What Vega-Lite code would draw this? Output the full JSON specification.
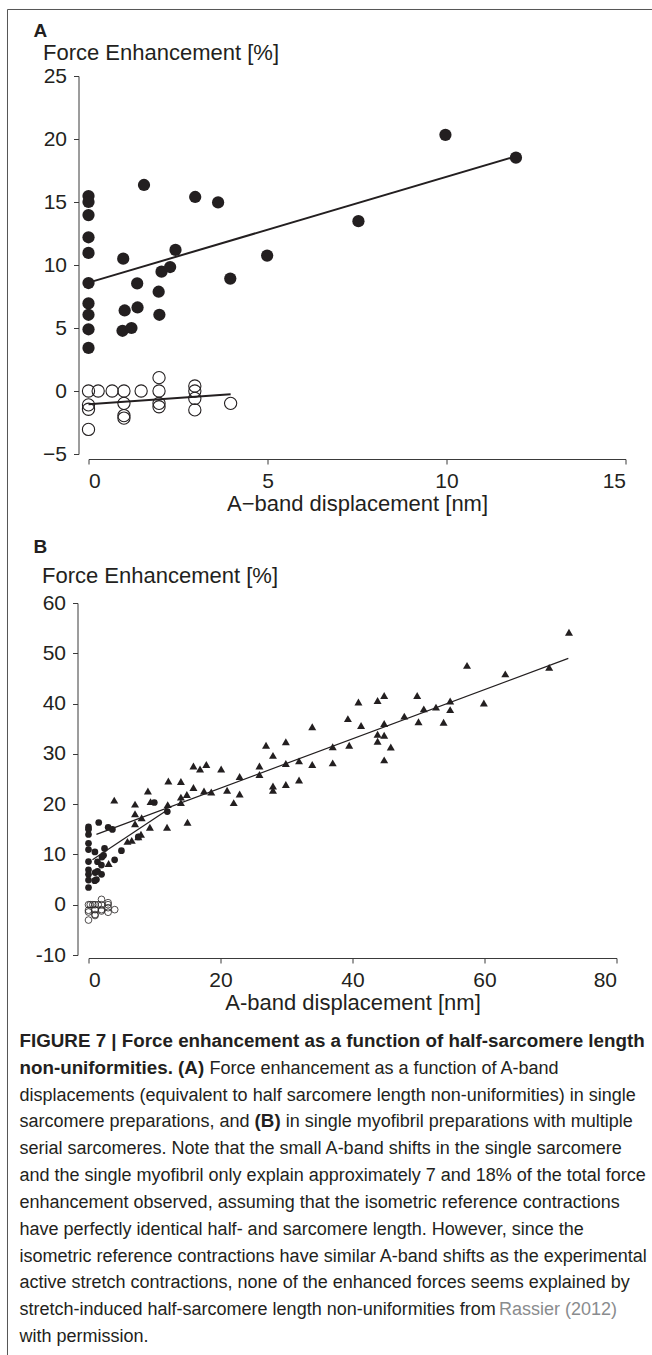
{
  "$schema": "https://vega.github.io/schema/vega-lite/v6.json",
  "padding": {"left": 6.5, "top": 8, "right": 0, "bottom": 0},
  "background": "white",
  "config": {
    "view": {"stroke": null},
    "font": "Liberation Sans",
    "axis": {
      "grid": false,
      "labelFont": "Liberation Sans",
      "titleFont": "Liberation Sans",
      "labelFontSize": 21,
      "titleFontSize": 22,
      "titleFontWeight": "normal",
      "labelColor": "#231f20",
      "titleColor": "#231f20",
      "domainColor": "#3a3a3a",
      "tickColor": "#3a3a3a",
      "domainWidth": 1,
      "tickWidth": 1,
      "tickSize": 5
    }
  },
  "datasets": {
    "circ": [
      {"x": 0, "y": 15.47}, {"x": 0, "y": 15.0}, {"x": 0, "y": 13.96}, {"x": 0, "y": 12.2}, {"x": 0, "y": 10.96},
      {"x": 0, "y": 8.57}, {"x": 0, "y": 6.95}, {"x": 0, "y": 6.05}, {"x": 0, "y": 4.9}, {"x": 0, "y": 3.42},
      {"x": 0.97, "y": 10.5}, {"x": 1.01, "y": 6.39}, {"x": 0.95, "y": 4.78}, {"x": 1.2, "y": 5.0}, {"x": 1.36, "y": 8.54},
      {"x": 1.37, "y": 6.63}, {"x": 1.55, "y": 16.35}, {"x": 1.96, "y": 7.88}, {"x": 1.98, "y": 6.05}, {"x": 2.04, "y": 9.47},
      {"x": 2.28, "y": 9.84}, {"x": 2.43, "y": 11.2}, {"x": 2.98, "y": 15.4}, {"x": 3.62, "y": 14.97}, {"x": 3.96, "y": 8.92},
      {"x": 4.99, "y": 10.75}, {"x": 7.54, "y": 13.48}, {"x": 9.97, "y": 20.33}, {"x": 11.94, "y": 18.52}
    ],
    "open": [
      {"x": 0, "y": 0}, {"x": 0, "y": -1.1}, {"x": 0, "y": -1.45}, {"x": 0, "y": -3.05}, {"x": 0.27, "y": 0},
      {"x": 0.66, "y": 0}, {"x": 0.99, "y": 0}, {"x": 0.99, "y": -0.98}, {"x": 0.99, "y": -1.95}, {"x": 0.99, "y": -2.15},
      {"x": 1.47, "y": 0}, {"x": 1.97, "y": 1.06}, {"x": 1.97, "y": 0}, {"x": 1.97, "y": -0.98}, {"x": 1.97, "y": -1.25},
      {"x": 2.97, "y": 0.4}, {"x": 2.97, "y": 0}, {"x": 2.97, "y": -0.59}, {"x": 2.97, "y": -1.5}, {"x": 3.97, "y": -0.98}
    ],
    "tri": [
      {"x": 3.05, "y": 8.2}, {"x": 3.9, "y": 20.8}, {"x": 5.9, "y": 12.6}, {"x": 6.55, "y": 12.8}, {"x": 7.05, "y": 20.0},
      {"x": 7.05, "y": 18.1}, {"x": 7.05, "y": 16.1}, {"x": 7.55, "y": 13.5}, {"x": 7.95, "y": 14.0}, {"x": 8.05, "y": 17.3},
      {"x": 9.0, "y": 22.6}, {"x": 9.3, "y": 15.4}, {"x": 9.4, "y": 20.5}, {"x": 11.9, "y": 15.4}, {"x": 12.0, "y": 19.9},
      {"x": 12.1, "y": 24.6}, {"x": 14.0, "y": 24.5}, {"x": 14.0, "y": 21.4}, {"x": 14.0, "y": 20.3}, {"x": 14.9, "y": 21.9},
      {"x": 15.0, "y": 16.4}, {"x": 15.9, "y": 27.6}, {"x": 15.9, "y": 23.3}, {"x": 16.9, "y": 27.0}, {"x": 17.85, "y": 27.9},
      {"x": 17.5, "y": 22.6}, {"x": 18.6, "y": 22.4}, {"x": 20.1, "y": 27.0}, {"x": 21.0, "y": 22.75}, {"x": 22.0, "y": 20.3},
      {"x": 22.9, "y": 25.5}, {"x": 22.9, "y": 22.0}, {"x": 25.9, "y": 27.6}, {"x": 25.9, "y": 25.9}, {"x": 26.9, "y": 31.7},
      {"x": 27.95, "y": 29.7}, {"x": 27.95, "y": 23.6}, {"x": 27.95, "y": 22.75}, {"x": 29.9, "y": 32.4}, {"x": 29.9, "y": 28.1},
      {"x": 29.9, "y": 23.9}, {"x": 31.9, "y": 28.6}, {"x": 31.9, "y": 24.8}, {"x": 33.9, "y": 35.4}, {"x": 33.9, "y": 27.9},
      {"x": 37.0, "y": 31.4}, {"x": 37.0, "y": 28.2}, {"x": 39.3, "y": 37.0}, {"x": 39.5, "y": 31.7}, {"x": 40.9, "y": 40.3},
      {"x": 41.3, "y": 35.65}, {"x": 43.8, "y": 40.6}, {"x": 43.8, "y": 33.9}, {"x": 43.8, "y": 32.5}, {"x": 44.8, "y": 41.6},
      {"x": 44.8, "y": 36.05}, {"x": 44.8, "y": 33.7}, {"x": 44.8, "y": 28.8}, {"x": 45.8, "y": 31.35}, {"x": 47.85, "y": 37.5},
      {"x": 49.8, "y": 41.6}, {"x": 50.0, "y": 36.4}, {"x": 50.8, "y": 38.95}, {"x": 52.65, "y": 39.3}, {"x": 53.8, "y": 36.3},
      {"x": 54.8, "y": 40.5}, {"x": 54.8, "y": 38.8}, {"x": 57.35, "y": 47.6}, {"x": 59.9, "y": 40.1}, {"x": 63.15, "y": 45.9},
      {"x": 69.8, "y": 47.2}, {"x": 72.8, "y": 54.2}
    ],
    "fitA": [
      {"g": "filled", "x": 0, "y": 8.6}, {"g": "filled", "x": 11.85, "y": 18.55},
      {"g": "open", "x": 0, "y": -1.05}, {"g": "open", "x": 3.97, "y": -0.25}
    ],
    "fitB": [
      {"g": "filled", "x": 0.6, "y": 8.95}, {"g": "filled", "x": 12.0, "y": 18.9},
      {"g": "tri", "x": 1.2, "y": 14.0}, {"g": "tri", "x": 72.7, "y": 49.0}
    ],
    "caption": [
      {"line": 1, "seg": "b", "text": "FIGURE 7 | Force enhancement as a function of half-sarcomere length"},
      {"line": 2, "seg": "b", "text": "non-uniformities. (A)"},
      {"line": 2, "seg": "r2", "text": "Force enhancement as a function of A-band"},
      {"line": 3, "seg": "r", "text": "displacements (equivalent to half sarcomere length non-uniformities) in single"},
      {"line": 4, "seg": "r", "text": "sarcomere preparations, and"},
      {"line": 4, "seg": "b4", "text": "(B)"},
      {"line": 4, "seg": "r4", "text": "in single myofibril preparations with multiple"},
      {"line": 5, "seg": "r", "text": "serial sarcomeres. Note that the small A-band shifts in the single sarcomere"},
      {"line": 6, "seg": "r", "text": "and the single myofibril only explain approximately 7 and 18% of the total force"},
      {"line": 7, "seg": "r", "text": "enhancement observed, assuming that the isometric reference contractions"},
      {"line": 8, "seg": "r", "text": "have perfectly identical half- and sarcomere length. However, since the"},
      {"line": 9, "seg": "r", "text": "isometric reference contractions have similar A-band shifts as the experimental"},
      {"line": 10, "seg": "r", "text": "active stretch contractions, none of the enhanced forces seems explained by"},
      {"line": 11, "seg": "r", "text": "stretch-induced half-sarcomere length non-uniformities from"},
      {"line": 11, "seg": "g11", "text": "Rassier (2012)"},
      {"line": 12, "seg": "r", "text": "with permission."}
    ]
  },
  "bounds": "flush",
  "spacing": 149,
  "vconcat": [
    {
      "width": 537,
      "height": 378,
      "title": {"text": "A", "anchor": "start", "frame": "group", "fontSize": 19, "fontWeight": "bold", "color": "#231f20", "dx": -55, "baseline": "alphabetic", "offset": 0, "dy": 47},
      "layer": [
        {
          "data": {"values": [{}]},
          "mark": {"type": "rule", "color": "#555555", "strokeWidth": 1},
          "encoding": {
            "x": {"datum": -2.2626, "type": "quantitative", "scale": {"domain": [0, 15], "nice": false, "zero": false}},
            "y": {"datum": 30.278, "type": "quantitative", "scale": {"domain": [-5, 25], "nice": false, "zero": false}},
            "y2": {"datum": -76.508}
          }
        },
        {
          "data": {"values": [{}]},
          "mark": {"type": "rule", "color": "#555555", "strokeWidth": 1},
          "encoding": {
            "x": {"datum": -2.2626, "type": "quantitative", "scale": {"domain": [0, 15], "nice": false, "zero": false}},
            "x2": {"datum": 15.754},
            "y": {"datum": 30.278, "type": "quantitative", "scale": {"domain": [-5, 25], "nice": false, "zero": false}}
          }
        },
        {
          "data": {"name": "circ"},
          "mark": {"type": "point", "shape": "circle", "filled": true, "size": 150, "color": "#231f20", "opacity": 1},
          "encoding": {
            "x": {
              "field": "x", "type": "quantitative",
              "scale": {"domain": [0, 15], "nice": false, "zero": false},
              "axis": {"values": [0, 5, 10, 15], "offset": 5, "labelPadding": 6, "title": "A\u2212band displacement [nm]", "titlePadding": 2}
            },
            "y": {
              "field": "y", "type": "quantitative",
              "scale": {"domain": [-5, 25], "nice": false, "zero": false},
              "axis": {"values": [-5, 0, 5, 10, 15, 20, 25], "offset": 10, "labelPadding": 7, "title": "Force Enhancement [%]", "titleAngle": 0, "titleAlign": "left", "titleBaseline": "alphabetic", "titleX": -36, "titleY": -16.5}
            }
          }
        },
        {
          "data": {"name": "open"},
          "mark": {"type": "point", "shape": "circle", "filled": false, "size": 150, "stroke": "#231f20", "strokeWidth": 1.1, "opacity": 1},
          "encoding": {
            "x": {"field": "x", "type": "quantitative", "scale": {"domain": [0, 15], "nice": false, "zero": false}},
            "y": {"field": "y", "type": "quantitative", "scale": {"domain": [-5, 25], "nice": false, "zero": false}}
          }
        },
        {
          "data": {"name": "fitA"},
          "mark": {"type": "line", "color": "#231f20", "strokeWidth": 2},
          "encoding": {
            "x": {"field": "x", "type": "quantitative", "scale": {"domain": [0, 15], "nice": false, "zero": false}},
            "y": {"field": "y", "type": "quantitative", "scale": {"domain": [-5, 25], "nice": false, "zero": false}},
            "detail": {"field": "g"}
          }
        }
      ]
    },
    {
      "width": 528,
      "height": 352,
      "title": {"text": "B", "anchor": "start", "frame": "group", "fontSize": 19, "fontWeight": "bold", "color": "#231f20", "dx": -55, "baseline": "alphabetic", "offset": 0, "dy": 8},
      "layer": [
        {
          "data": {"name": "tri"},
          "mark": {"type": "point", "shape": "triangle-up", "filled": true, "size": 64, "color": "#231f20", "opacity": 1},
          "encoding": {
            "x": {
              "field": "x", "type": "quantitative",
              "scale": {"domain": [0, 80], "nice": false, "zero": false},
              "axis": {"values": [0, 20, 40, 60, 80], "offset": 3, "labelPadding": 6, "title": "A-band displacement [nm]", "titlePadding": 2}
            },
            "y": {
              "field": "y", "type": "quantitative",
              "scale": {"domain": [-10, 60], "nice": false, "zero": false},
              "axis": {"values": [-10, 0, 10, 20, 30, 40, 50, 60], "labelExpr": "replace(datum.label, '\u2212', '-')", "offset": 11, "labelPadding": 7, "title": "Force Enhancement [%]", "titleAngle": 0, "titleAlign": "left", "titleBaseline": "alphabetic", "titleX": -36, "titleY": -21}
            }
          }
        },
        {
          "data": {"name": "circ"},
          "mark": {"type": "point", "shape": "circle", "filled": true, "size": 45, "color": "#231f20", "opacity": 1},
          "encoding": {
            "x": {"field": "x", "type": "quantitative", "scale": {"domain": [0, 80], "nice": false, "zero": false}},
            "y": {"field": "y", "type": "quantitative", "scale": {"domain": [-10, 60], "nice": false, "zero": false}}
          }
        },
        {
          "data": {"name": "open"},
          "mark": {"type": "point", "shape": "circle", "filled": false, "size": 45, "stroke": "#231f20", "strokeWidth": 0.8, "opacity": 1},
          "encoding": {
            "x": {"field": "x", "type": "quantitative", "scale": {"domain": [0, 80], "nice": false, "zero": false}},
            "y": {"field": "y", "type": "quantitative", "scale": {"domain": [-10, 60], "nice": false, "zero": false}}
          }
        },
        {
          "data": {"name": "fitB"},
          "mark": {"type": "line", "color": "#231f20", "strokeWidth": 1.2},
          "encoding": {
            "x": {"field": "x", "type": "quantitative", "scale": {"domain": [0, 80], "nice": false, "zero": false}},
            "y": {"field": "y", "type": "quantitative", "scale": {"domain": [-10, 60], "nice": false, "zero": false}},
            "detail": {"field": "g"}
          }
        }
      ]
    },
    {
      "width": 537,
      "height": 238,
      "data": {"name": "caption"},
      "encoding": {
        "x": {"datum": 0, "type": "quantitative", "scale": {"domain": [0, 1]}, "axis": null},
        "y": {"field": "line", "type": "quantitative", "scale": {"domain": [3.125, 12], "reverse": true, "zero": false, "nice": false}, "axis": null},
        "text": {"field": "text"}
      },
      "layer": [
        {"transform": [{"filter": "datum.seg == 'b'"}], "mark": {"type": "text", "align": "left", "baseline": "alphabetic", "dx": -69, "font": "Liberation Sans", "fontSize": 18.8, "fontWeight": "bold", "color": "#231f20"}},
        {"transform": [{"filter": "datum.seg == 'r'"}], "mark": {"type": "text", "align": "left", "baseline": "alphabetic", "dx": -69, "font": "Liberation Sans", "fontSize": 18, "color": "#231f20"}},
        {"transform": [{"filter": "datum.seg == 'r2'"}], "mark": {"type": "text", "align": "left", "baseline": "alphabetic", "dx": 120.9, "font": "Liberation Sans", "fontSize": 18, "color": "#231f20"}},
        {"transform": [{"filter": "datum.seg == 'b4'"}], "mark": {"type": "text", "align": "left", "baseline": "alphabetic", "dx": 166.1, "font": "Liberation Sans", "fontSize": 18.8, "fontWeight": "bold", "color": "#231f20"}},
        {"transform": [{"filter": "datum.seg == 'r4'"}], "mark": {"type": "text", "align": "left", "baseline": "alphabetic", "dx": 197.2, "font": "Liberation Sans", "fontSize": 18, "color": "#231f20"}},
        {"transform": [{"filter": "datum.seg == 'g11'"}], "mark": {"type": "text", "align": "left", "baseline": "alphabetic", "dx": 410.5, "font": "Liberation Sans", "fontSize": 18, "color": "#8a8c8e"}}
      ]
    }
  ]
}
